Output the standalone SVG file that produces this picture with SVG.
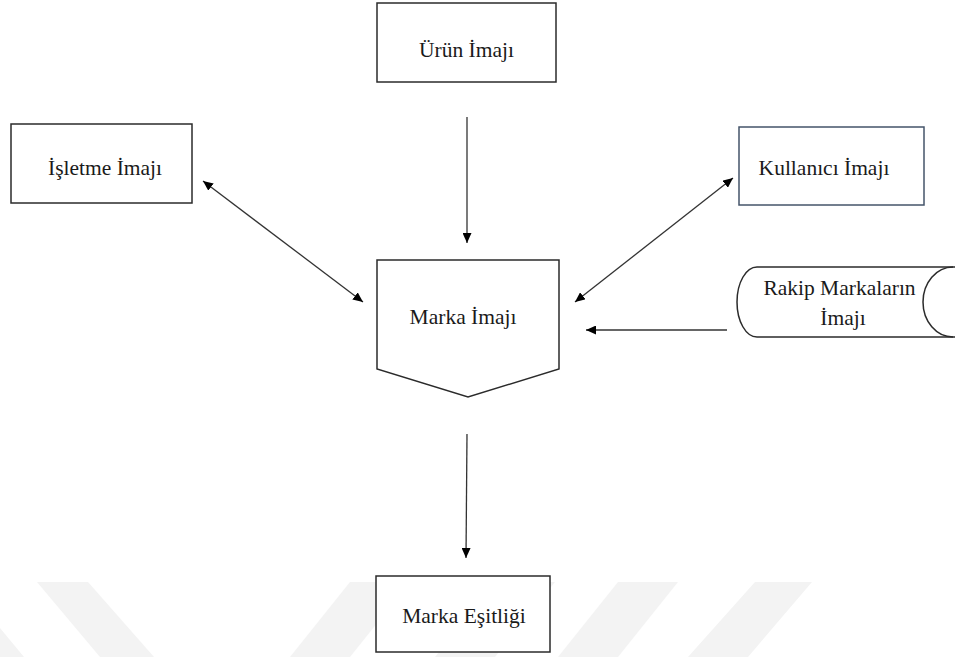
<svg xmlns="http://www.w3.org/2000/svg" width="955" height="657" viewBox="0 0 955 657">
  <style>
    .box { fill: #ffffff; stroke: #2b2b2b; stroke-width: 1.5; }
    .box-blue { fill: #ffffff; stroke: #44546a; stroke-width: 1.5; }
    .label { font-family: "Liberation Serif", "Times New Roman", Times, serif; font-size: 21.5px; fill: #1a1a1a; text-anchor: middle; }
    .conn { fill: none; stroke: #333333; stroke-width: 1.3; }
    .wm { fill: #f3f3f3; }
  </style>
  <defs>
    <marker id="arrow" viewBox="0 0 10 9" refX="10" refY="4.5" markerWidth="10" markerHeight="9" markerUnits="userSpaceOnUse" orient="auto-start-reverse">
      <path d="M0,0 L10,4.5 L0,9 z" fill="#000000"/>
    </marker>
  </defs>

  <rect width="955" height="657" fill="#ffffff"/>

  <!-- faint diagonal background stripes -->
  <g id="watermark">
    <polygon class="wm" points="37,582 88,582 154,657 100,657"/>
    <polygon class="wm" points="0,628 0,657 24,657"/>
    <polygon class="wm" points="350,582 410,582 350,657 290,657"/>
    <polygon class="wm" points="495,582 555,582 495,657 435,657"/>
    <polygon class="wm" points="618,582 678,582 618,657 558,657"/>
    <polygon class="wm" points="755,582 812,582 748,657 688,657"/>
  </g>

  <!-- connectors -->
  <g id="connectors">
    <line class="conn" x1="467" y1="117" x2="467" y2="243" marker-end="url(#arrow)"/>
    <line class="conn" x1="203" y1="181" x2="363" y2="302" marker-start="url(#arrow)" marker-end="url(#arrow)"/>
    <line class="conn" x1="733" y1="178" x2="575" y2="302" marker-start="url(#arrow)" marker-end="url(#arrow)"/>
    <line class="conn" x1="727" y1="330" x2="586" y2="330" marker-end="url(#arrow)"/>
    <line class="conn" x1="467" y1="434" x2="466" y2="558" marker-end="url(#arrow)"/>
  </g>

  <g id="urun-imaji">
    <rect class="box" x="377" y="3" width="179" height="79"/>
    <text class="label" x="466.5" y="57">Ürün İmajı</text>
  </g>

  <g id="isletme-imaji">
    <rect class="box" x="11" y="124" width="181" height="79"/>
    <text class="label" x="105" y="175">İşletme İmajı</text>
  </g>

  <g id="kullanici-imaji">
    <rect class="box-blue" x="739" y="127" width="185" height="78"/>
    <text class="label" x="824" y="175">Kullanıcı İmajı</text>
  </g>

  <g id="marka-imaji">
    <path class="box" d="M377,260 H559 V369 L468,397 L377,369 Z"/>
    <text class="label" x="463" y="324">Marka İmajı</text>
  </g>

  <g id="rakip-markalarin-imaji">
    <path class="box" d="M957,267 H757 A20,35 0 0 0 757,337 H957"/>
    <path class="box" style="fill:none" d="M953,267 A30,35 0 0 0 953,337"/>
    <text class="label" x="839.5" y="295">Rakip Markaların</text>
    <text class="label" x="843" y="325">İmajı</text>
  </g>

  <g id="marka-esitligi">
    <rect class="box" x="376" y="576" width="174" height="76"/>
    <text class="label" x="464" y="623">Marka Eşitliği</text>
  </g>
</svg>
